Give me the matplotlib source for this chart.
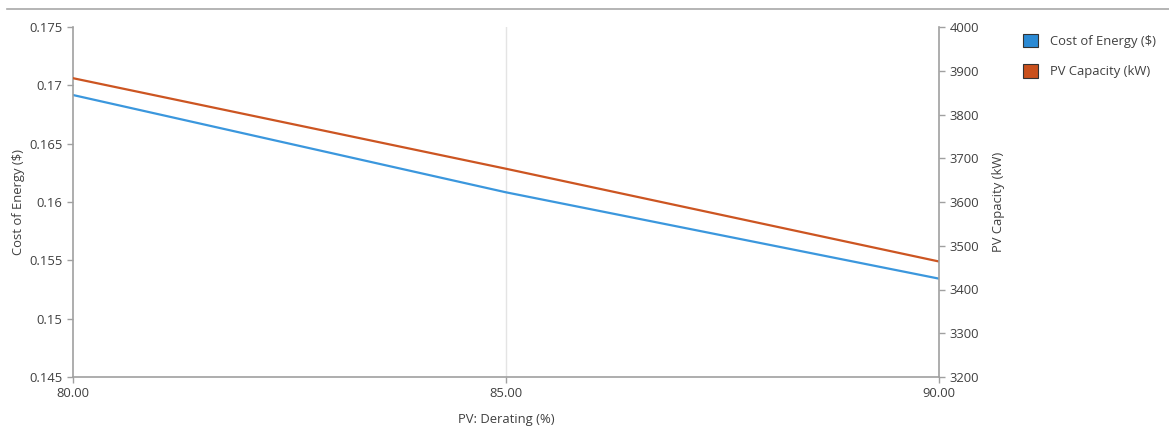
import matplotlib.pyplot as plt
from matplotlib.lines import Line2D
from matplotlib.patches import Patch
from matplotlib.ticker import FuncFormatter

derating = [80.0, 85.0, 90.0]
cost_of_energy = [0.16917, 0.16083, 0.15343]
pv_capacity = [3883, 3676, 3464]

x_ticks = [80, 85, 90]
left_ticks = [0.145, 0.15, 0.155, 0.16, 0.165, 0.17, 0.175]
right_ticks = [3200, 3300, 3400, 3500, 3600, 3700, 3800, 3900, 4000]

blue = '#3b97dd'
orange = '#cc5522'
txt = '#404040'
axcol = '#a0a0a0'

plt.rcParams['font.family'] = ['Open Sans', 'DejaVu Sans']
plt.rcParams['font.size'] = 9.4

fig = plt.figure(figsize=(11.69, 4.30), dpi=100)
ax = fig.add_axes([73 / 1169, 53 / 430, (939 - 73) / 1169, 350 / 430])
ax2 = ax.twinx()

# top separator line
fig.add_artist(Line2D([7 / 1169, 1.0], [421 / 430, 421 / 430], color='#a8a8a8', lw=1.2))

ax.axvline(85, color='#e4e4e4', lw=1, zorder=0)
ax.plot(derating, cost_of_energy, color=blue, lw=1.6)
ax2.plot(derating, pv_capacity, color=orange, lw=1.6)

ax.set_xlim(80, 90)
ax.set_ylim(0.145, 0.175)
ax2.set_ylim(3200, 4000)
ax.set_xticks(x_ticks)
ax.set_yticks(left_ticks)
ax2.set_yticks(right_ticks)
ax.xaxis.set_major_formatter(FuncFormatter(lambda v, p: '%.2f' % v))
ax.yaxis.set_major_formatter(FuncFormatter(lambda v, p: '%g' % round(v, 3)))

for a in (ax, ax2):
    for s in a.spines.values():
        s.set_color(axcol)
        s.set_linewidth(1.2)
    a.spines['top'].set_visible(False)
    a.tick_params(colors=axcol, labelcolor=txt, length=4, width=1)
ax.spines['right'].set_visible(False)
ax2.spines['left'].set_visible(False)
ax2.spines['bottom'].set_visible(False)

ax.set_xlabel('PV: Derating (%)', color=txt, labelpad=9)
ax.set_ylabel('Cost of Energy ($)', color=txt, labelpad=3)
ax2.set_ylabel('PV Capacity (kW)', color=txt, labelpad=9)

handles = [Patch(facecolor='#2b8ad4', edgecolor='#333333', lw=0.8, label='Cost of Energy ($)'),
           Patch(facecolor='#c9501c', edgecolor='#333333', lw=0.8, label='PV Capacity (kW)')]
fig.legend(handles=handles, loc='upper left', bbox_to_anchor=(1011 / 1169, 1 - 22 / 430),
           frameon=False, handlelength=1.2, handleheight=1.2, labelspacing=1.25,
           handletextpad=0.85, labelcolor=txt)

fig.savefig('out.png', dpi=100)
